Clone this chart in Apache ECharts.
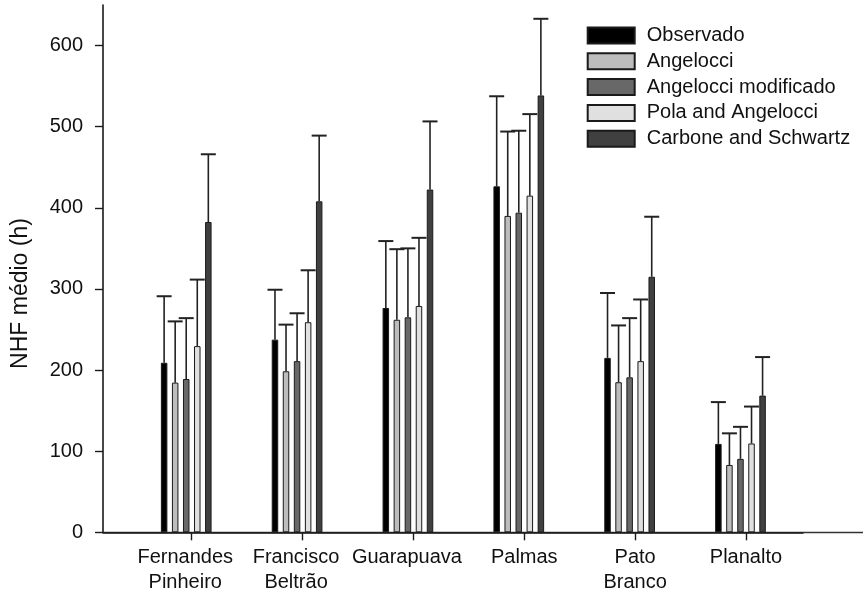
<!DOCTYPE html>
<html>
<head>
<meta charset="utf-8">
<script src="https://cdn.jsdelivr.net/npm/echarts@6/dist/echarts.min.js"></script>
<style>
  html, body { margin: 0; padding: 0; background: #fff; }
  #chart { width: 863px; height: 597px; }
</style>
</head>
<body>
<div id="chart"></div>
<script>
// Stations (x categories)
const categories = ['Fernandes\nPinheiro', 'Francisco\nBeltrão', 'Guarapuava', 'Palmas', 'Pato\nBranco', 'Planalto'];
// Labels drawn slightly left of their tick
const shiftedLabels = [0, 1, 2];

// Mean NHF (h) per station, one array per method
const observado   = [209, 237.5, 276.5, 426.5, 215, 109];
const angelocci   = [184.5, 198.5, 262, 390, 185, 83];
const angelocciMod = [189, 211, 265, 394, 191, 90.5];
const polaAngelocci = [229.5, 259, 279, 415, 211, 109.5];
const carbone     = [382.5, 408, 422.5, 538.5, 315, 168.5];

// Standard deviations (upper error bars)
const observadoSd   = [82, 61.5, 82.5, 111, 80, 51.5];
const angelocciSd   = [75.5, 57.5, 87, 104, 70, 39];
const angelocciModSd = [75, 59, 85, 101, 73, 39.5];
const polaAngelocciSd = [82, 64, 84, 100.5, 76, 45.5];
const carboneSd     = [83.5, 81, 84, 94.5, 74, 47.5];

// Y axis tick values
const yTicks = [0, 100, 200, 300, 400, 500, 600];

const seriesNames = ['Observado', 'Angelocci', 'Angelocci modificado', 'Pola and Angelocci', 'Carbone and Schwartz'];
const seriesMeans = [observado, angelocci, angelocciMod, polaAngelocci, carbone];
const seriesSds = [observadoSd, angelocciSd, angelocciModSd, polaAngelocciSd, carboneSd];
const fills = ['#000000', '#bdbdbd', '#686868', '#e0e0e0', '#404040'];

const FONT = '"Liberation Sans", Arial, sans-serif';
const BAR_W = 6.5;
const BAR_GAP = 0.7;
const PITCH = BAR_W * (1 + BAR_GAP);
const Y_MAX = 650;
const EDGE = '#1a1a1a';

const chart = echarts.init(document.getElementById('chart'), null, { renderer: 'canvas' });

const barSeries = seriesNames.map((name, k) => ({
  name: name,
  type: 'bar',
  xAxisIndex: 4,
  yAxisIndex: 3,
  barWidth: BAR_W,
  barGap: (BAR_GAP * 100) + '%',
  itemStyle: { color: fills[k], borderColor: EDGE, borderWidth: 1 },
  data: seriesMeans[k],
  z: 3
}));

const errorSeries = seriesNames.map((name, k) => ({
  name: name + ' sd',
  type: 'custom',
  xAxisIndex: 4,
  yAxisIndex: 3,
  clip: false,
  z: 4,
  encode: { x: 0, y: [1, 2] },
  data: seriesMeans[k].map((m, i) => [i, m, m + seriesSds[k][i]]),
  renderItem: function (params, api) {
    const i = api.value(0);
    const base = api.coord([i, api.value(1)]);
    const top = api.coord([i, api.value(2)]);
    const x = base[0] + (k - 2) * PITCH;
    return {
      type: 'group',
      children: [
        { type: 'line', shape: { x1: x, y1: base[1], x2: x, y2: top[1] }, style: { stroke: '#222', lineWidth: 1.6 } },
        { type: 'line', shape: { x1: x - 7.5, y1: top[1], x2: x + 7.5, y2: top[1] }, style: { stroke: '#222', lineWidth: 2 } }
      ]
    };
  }
}));

const gridTop = 5, gridBottom = 64.7;

const option = {
  animation: false,
  backgroundColor: '#ffffff',
  textStyle: { fontFamily: FONT },
  grid: [
    { left: 103, right: 60, top: gridTop, bottom: gridBottom },
    { left: 103, right: 0, top: gridTop, bottom: gridBottom },
    { left: 136.3, right: 61.6, top: gridTop, bottom: gridBottom },
    { left: 130.8, right: 67.1, top: gridTop, bottom: gridBottom }
  ],
  legend: {
    orient: 'vertical',
    left: 586.7,
    top: 25.5,
    padding: 0,
    itemWidth: 47,
    itemHeight: 16,
    itemGap: 5.8,
    icon: 'rect',
    selectedMode: false,
    data: seriesNames,
    textStyle: { fontFamily: FONT, fontSize: 20, color: '#111', padding: [0, 0, 0, 7] }
  },
  xAxis: [
    { gridIndex: 0, type: 'value', min: 0, max: 1, z: 2,
      axisLine: { show: true, lineStyle: { color: '#1a1a1a', width: 1.6 } },
      axisTick: { show: false }, axisLabel: { show: false }, splitLine: { show: false } },
    { gridIndex: 1, type: 'value', min: 0, max: 1, position: 'top', z: 1,
      axisLine: { show: true, lineStyle: { color: '#333', width: 1.4 } },
      axisTick: { show: false }, axisLabel: { show: false }, splitLine: { show: false } },
    { gridIndex: 1, type: 'value', min: 0, max: 1, position: 'bottom', z: 0,
      axisLine: { show: true, lineStyle: { color: '#8a8a8a', width: 1.2 } },
      axisTick: { show: false }, axisLabel: { show: false }, splitLine: { show: false } },
    { gridIndex: 2, type: 'category', data: categories, z: 2,
      axisLine: { show: false },
      axisTick: { show: true, alignWithLabel: true, inside: false, length: 8, lineStyle: { color: '#1a1a1a', width: 1.4 } },
      axisLabel: {
        margin: 13,
        interval: 0,
        color: '#111',
        fontFamily: FONT,
        fontSize: 20,
        lineHeight: 25,
        formatter: function (value, idx) {
          const tag = shiftedLabels.indexOf(idx) >= 0 ? 's' : 'n';
          return value.split('\n').map(t => '{' + tag + '|' + t + '}').join('\n');
        },
        rich: {
          s: { fontFamily: FONT, fontSize: 20, lineHeight: 25, color: '#111', padding: [0, 13, 0, 0] },
          n: { fontFamily: FONT, fontSize: 20, lineHeight: 25, color: '#111' }
        }
      },
      splitLine: { show: false } },
    { gridIndex: 3, type: 'category', data: categories, show: false }
  ],
  yAxis: [
    { gridIndex: 0, type: 'value', min: 0, max: Y_MAX, interval: 100,
      axisLine: { show: true, lineStyle: { color: '#1a1a1a', width: 1.6 } },
      axisTick: { show: true, inside: false, length: 8, customValues: yTicks, lineStyle: { color: '#1a1a1a', width: 1.4 } },
      axisLabel: { customValues: yTicks, margin: 20, fontSize: 20, color: '#111', fontFamily: FONT },
      splitLine: { show: false } },
    { gridIndex: 1, type: 'value', min: 0, max: 1, show: false },
    { gridIndex: 2, type: 'value', min: 0, max: 1, show: false },
    { gridIndex: 3, type: 'value', min: 0, max: Y_MAX, show: false }
  ],
  graphic: [
    {
      type: 'text',
      x: 21,
      y: 293.5,
      rotation: Math.PI / 2,
      style: {
        text: 'NHF médio (h)',
        font: '23px ' + FONT,
        fill: '#111',
        align: 'center',
        verticalAlign: 'middle'
      }
    }
  ],
  series: barSeries.concat(errorSeries)
};

chart.setOption(option);
</script>
</body>
</html>
